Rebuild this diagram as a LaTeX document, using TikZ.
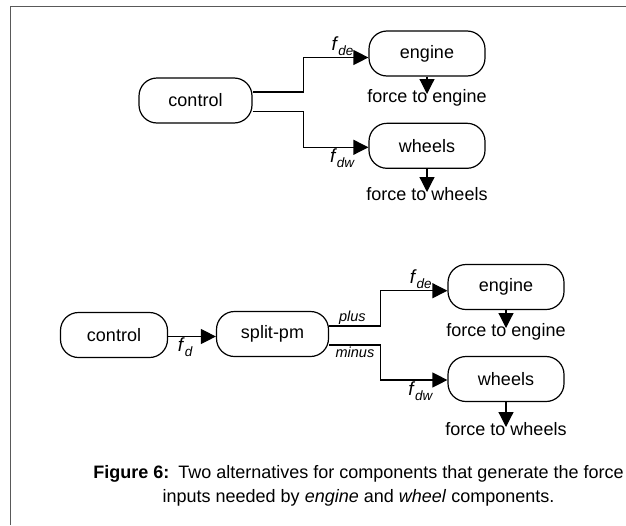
\documentclass[tikz,border=0pt]{standalone}
\usepackage{fontspec}
\setmainfont{Liberation Sans}
\usetikzlibrary{arrows.meta,positioning}
\newcommand{\fsub}[1]{\textit{f}\raisebox{-0.5ex}{\fontsize{13.5}{14}\selectfont\textit{#1}}}

\begin{document}
\begin{tikzpicture}[x=1pt,y=-1pt,
  blk/.style={draw,line width=1.2pt,rounded corners=18pt,inner sep=0pt,minimum height=45pt,
    font=\fontsize{18}{21}\selectfont},
  arr/.style={line width=1.2pt,-{Triangle[length=15pt,width=15pt]}},
  lbl/.style={font=\fontsize{19}{21}\selectfont,inner sep=1pt},
  tag/.style={font=\fontsize{14.5}{16}\selectfont\itshape,inner sep=1pt},
  outtxt/.style={font=\fontsize{18}{21}\selectfont,anchor=base,inner sep=0pt},
  capt/.style={font=\fontsize{18}{24}\selectfont,align=center,inner sep=0pt}]
  \useasboundingbox (0,0) rectangle (626,525);
  \draw[black!65,line width=1.8pt] (10.5,525) -- (10.5,6.5) -- (626,6.5);
  % control drives engine and wheels directly
  \node[blk,minimum width=113pt] (ctlA) at (195.5,100.5) {control};
  \node[blk,minimum width=116pt] (engA) at (427,53.5) {engine};
  \node[blk,minimum width=116pt] (whlA) at (427,145.8) {wheels};
  \node[outtxt] (feA) at (427,102) {force to engine};
  \node[outtxt] (fwA) at (427,200) {force to wheels};
  \draw[arr] ([yshift=8.5pt]ctlA.east) -- ++(51,0)
    |- node[lbl,pos=0.8,above]{\fsub{de}} ([yshift=-4pt]engA.west);
  \draw[arr] ([yshift=-11pt]ctlA.east) -- ++(51,0)
    |- node[lbl,pos=0.8,below]{\fsub{dw}} ([yshift=-1.5pt]whlA.west);
  \draw[arr] (engA.south) -- ([yshift=8pt]feA.base);
  \draw[arr] (whlA.south) -- ([yshift=8pt]fwA.base);
  % control feeds split-pm, which gives plus and minus
  \node[blk,minimum width=107pt] (ctlB) at (114,335) {control};
  \node[blk,minimum width=112pt] (spl) at (272.5,334) {split-pm};
  \node[blk,minimum width=116pt] (engB) at (506,287) {engine};
  \node[blk,minimum width=116pt] (whlB) at (506,379) {wheels};
  \node[outtxt] (feB) at (506,336) {force to engine};
  \node[outtxt] (fwB) at (506,435) {force to wheels};
  \draw[arr] ([yshift=-1.5pt]ctlB.east) -- node[lbl,pos=0.36,below]{\fsub{d}} ([yshift=-2.5pt]spl.west);
  \draw[arr] ([yshift=8pt]spl.east) -- node[tag,pos=0.45,above]{plus} ++(51.7,0)
    |- node[lbl,pos=0.8,above]{\fsub{de}} ([yshift=-3.7pt]engB.west);
  \draw[arr] ([yshift=-11pt]spl.east) -- node[tag,pos=0.5,below]{minus} ++(51.7,0)
    |- node[lbl,pos=0.8,below]{\fsub{dw}} ([yshift=-1pt]whlB.west);
  \draw[arr] (engB.south) -- ([yshift=8pt]feB.base);
  \draw[arr] (whlB.south) -- ([yshift=8pt]fwB.base);
  % caption
  \node[capt] (cap6) at (358.5,486) {\textbf{Figure 6:}\enspace Two alternatives for components that generate the force\\
    inputs needed by \textit{engine} and \textit{wheel} components.};
\end{tikzpicture}
\end{document}
